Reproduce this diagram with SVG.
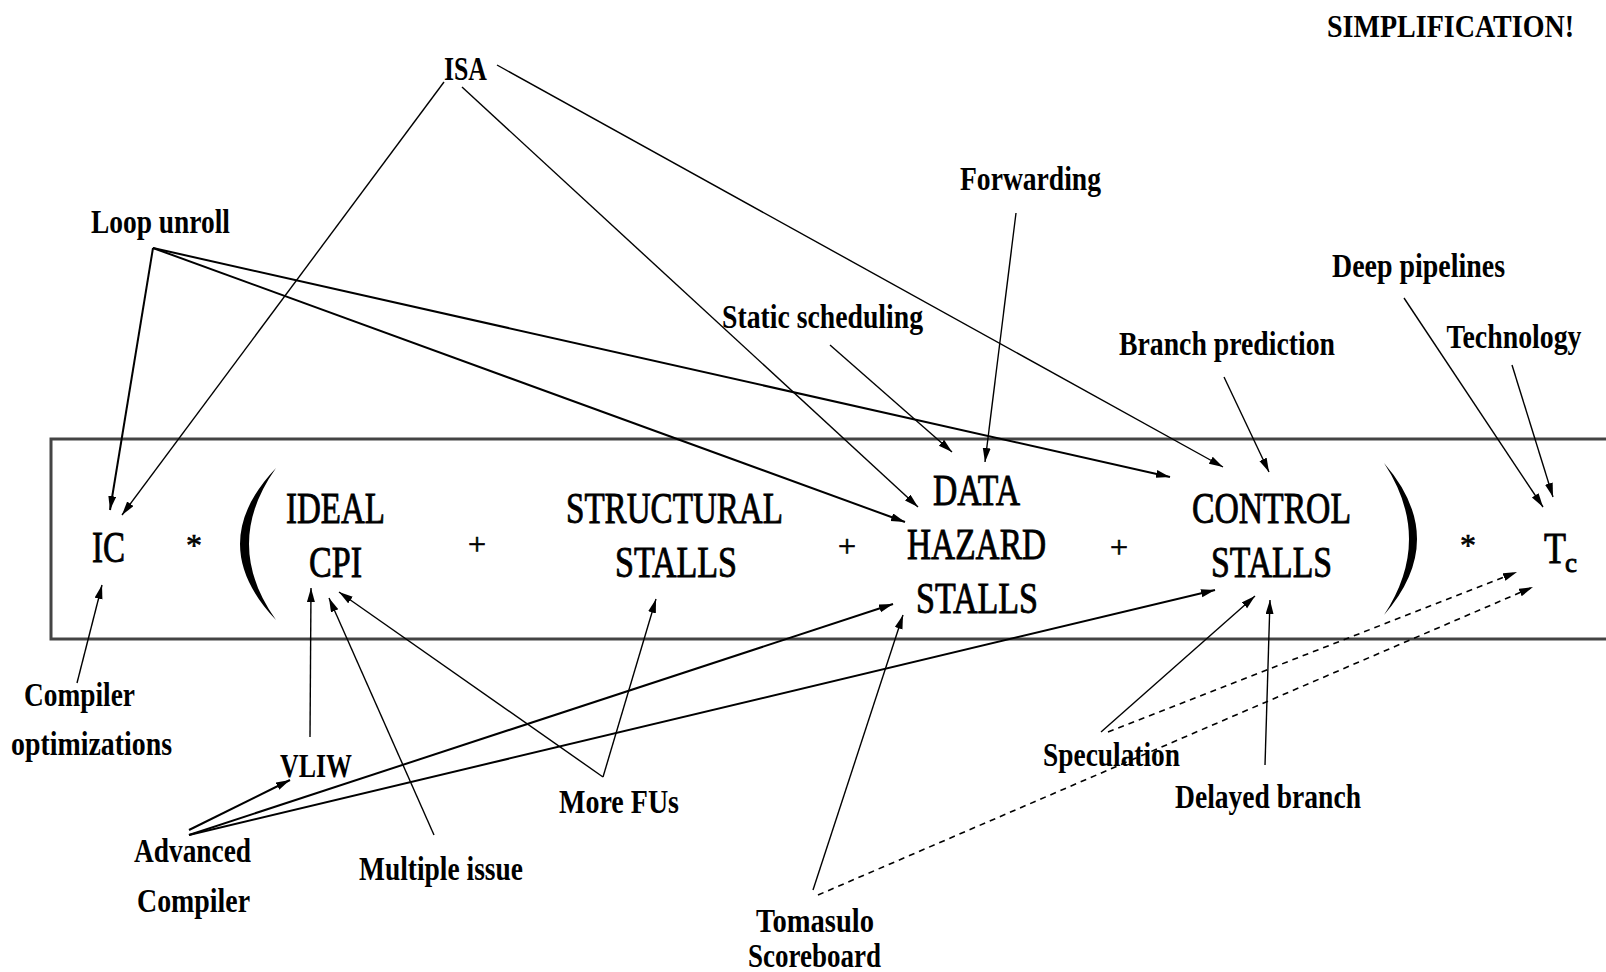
<svg xmlns="http://www.w3.org/2000/svg" width="1606" height="972" viewBox="0 0 1606 972">
<defs>
<marker id="ah" markerUnits="userSpaceOnUse" markerWidth="15" markerHeight="9" refX="14" refY="4" orient="auto">
<path d="M0,0 L14,4 L0,8 Z" fill="#000"/>
</marker>
<style>
.lbl{font-family:"Liberation Serif","Times New Roman",serif;font-weight:bold;font-size:34px;fill:#000;text-anchor:middle}
.eq{font-family:"Liberation Serif","Times New Roman",serif;font-size:44px;fill:#000;stroke:#000;stroke-width:0.9;text-anchor:middle}
.sym{font-family:"Liberation Serif","Times New Roman",serif;font-size:32px;fill:#000;stroke:#000;stroke-width:0.6;text-anchor:middle}
.c{stroke:#000;stroke-width:1.4;fill:none;marker-end:url(#ah)}
.t{stroke-width:2}
.d{stroke-dasharray:6 5;stroke-width:1.6}
</style>
</defs>
<rect width="1606" height="972" fill="#fff"/>
<g id="frame">
<rect x="51" y="439" width="1600" height="200" fill="none" stroke="#444" stroke-width="3"/>
</g>
<g id="equation">
<g id="ic"><text class="eq" x="108.5" y="562" textLength="33" lengthAdjust="spacingAndGlyphs">IC</text></g>
<text class="sym" x="194" y="556">*</text>
<path id="lparen" d="M276,468 Q204,544 276,620 Q222,544 276,468 Z" fill="#000"/>
<g id="ideal-cpi">
<text class="eq" x="335.5" y="523" textLength="99" lengthAdjust="spacingAndGlyphs">IDEAL</text>
<text class="eq" x="335.5" y="577" textLength="53" lengthAdjust="spacingAndGlyphs">CPI</text>
</g>
<text class="sym" x="477" y="555">+</text>
<g id="structural">
<text class="eq" x="674.5" y="523" textLength="217" lengthAdjust="spacingAndGlyphs">STRUCTURAL</text>
<text class="eq" x="676" y="577" textLength="122" lengthAdjust="spacingAndGlyphs">STALLS</text>
</g>
<text class="sym" x="847" y="557">+</text>
<g id="data-hazard">
<text class="eq" x="976.5" y="505" textLength="87" lengthAdjust="spacingAndGlyphs">DATA</text>
<text class="eq" x="976.5" y="559" textLength="139" lengthAdjust="spacingAndGlyphs">HAZARD</text>
<text class="eq" x="977" y="613" textLength="122" lengthAdjust="spacingAndGlyphs">STALLS</text>
</g>
<text class="sym" x="1119" y="558">+</text>
<g id="control">
<text class="eq" x="1271.5" y="523" textLength="159" lengthAdjust="spacingAndGlyphs">CONTROL</text>
<text class="eq" x="1271.5" y="577" textLength="121" lengthAdjust="spacingAndGlyphs">STALLS</text>
</g>
<path id="rparen" d="M1384,463 Q1450,539 1384,615 Q1434,539 1384,463 Z" fill="#000"/>
<text class="sym" x="1468" y="556">*</text>
<g id="tc">
<text class="eq" x="1555" y="563" textLength="22" lengthAdjust="spacingAndGlyphs">T</text>
<text class="eq" x="1571" y="572" style="font-size:28px" textLength="12" lengthAdjust="spacingAndGlyphs">c</text>
</g>
</g>
<g id="labels">
<g id="simplification"><text class="lbl" x="1450.5" y="37" style="font-size:32px" textLength="247" lengthAdjust="spacingAndGlyphs">SIMPLIFICATION!</text></g>
<g id="isa"><text class="lbl" x="465.5" y="80" textLength="43" lengthAdjust="spacingAndGlyphs">ISA</text></g>
<g id="loop-unroll"><text class="lbl" x="160.5" y="233" textLength="139" lengthAdjust="spacingAndGlyphs">Loop unroll</text></g>
<g id="forwarding"><text class="lbl" x="1030.5" y="190" textLength="141" lengthAdjust="spacingAndGlyphs">Forwarding</text></g>
<g id="static-scheduling"><text class="lbl" x="822.5" y="328" textLength="201" lengthAdjust="spacingAndGlyphs">Static scheduling</text></g>
<g id="deep-pipelines"><text class="lbl" x="1418.5" y="277" textLength="173" lengthAdjust="spacingAndGlyphs">Deep pipelines</text></g>
<g id="branch-prediction"><text class="lbl" x="1227" y="355" textLength="216" lengthAdjust="spacingAndGlyphs">Branch prediction</text></g>
<g id="technology"><text class="lbl" x="1514" y="348" textLength="135" lengthAdjust="spacingAndGlyphs">Technology</text></g>
<g id="compiler-opt">
<text class="lbl" x="79.5" y="706" textLength="111" lengthAdjust="spacingAndGlyphs">Compiler</text>
<text class="lbl" x="91.5" y="755" textLength="161" lengthAdjust="spacingAndGlyphs">optimizations</text>
</g>
<g id="vliw"><text class="lbl" x="316" y="777" textLength="72" lengthAdjust="spacingAndGlyphs">VLIW</text></g>
<g id="advanced-compiler">
<text class="lbl" x="192.5" y="862" textLength="117" lengthAdjust="spacingAndGlyphs">Advanced</text>
<text class="lbl" x="193.5" y="912" textLength="113" lengthAdjust="spacingAndGlyphs">Compiler</text>
</g>
<g id="multiple-issue"><text class="lbl" x="441" y="880" textLength="164" lengthAdjust="spacingAndGlyphs">Multiple issue</text></g>
<g id="more-fus"><text class="lbl" x="619" y="813" textLength="120" lengthAdjust="spacingAndGlyphs">More FUs</text></g>
<g id="tomasulo">
<text class="lbl" x="815" y="932" textLength="118" lengthAdjust="spacingAndGlyphs">Tomasulo</text>
<text class="lbl" x="814.5" y="967" textLength="133" lengthAdjust="spacingAndGlyphs">Scoreboard</text>
</g>
<g id="speculation"><text class="lbl" x="1111.5" y="766" textLength="137" lengthAdjust="spacingAndGlyphs">Speculation</text></g>
<g id="delayed-branch"><text class="lbl" x="1268" y="808" textLength="186" lengthAdjust="spacingAndGlyphs">Delayed branch</text></g>
</g>
<g id="connectors">
<line class="c" x1="444" y1="82" x2="122" y2="515"/>
<line class="c" x1="462" y1="87" x2="918" y2="507"/>
<line class="c" x1="497" y1="65" x2="1223" y2="467"/>
<line class="c t" x1="153" y1="248" x2="110" y2="510"/>
<line class="c t" x1="153" y1="248" x2="905" y2="522"/>
<line class="c t" x1="153" y1="248" x2="1170" y2="477"/>
<line class="c" x1="830" y1="345" x2="952" y2="452"/>
<line class="c" x1="1016" y1="213" x2="985" y2="462"/>
<line class="c" x1="1224" y1="377" x2="1269" y2="472"/>
<line class="c" x1="1404" y1="298" x2="1543" y2="507"/>
<line class="c" x1="1512" y1="365" x2="1553" y2="497"/>
<line class="c" x1="77" y1="683" x2="102" y2="585"/>
<line class="c" x1="310" y1="737" x2="311" y2="588"/>
<line class="c" x1="434" y1="835" x2="329" y2="598"/>
<line class="c" x1="603" y1="777" x2="339" y2="592"/>
<line class="c" x1="603" y1="777" x2="656" y2="599"/>
<line class="c t" x1="189" y1="830" x2="290" y2="780"/>
<line class="c t" x1="189" y1="835" x2="893" y2="604"/>
<line class="c t" x1="189" y1="835" x2="1215" y2="590"/>
<line class="c" x1="813" y1="890" x2="903" y2="615"/>
<line class="c d" x1="818" y1="895" x2="1533" y2="587"/>
<line class="c" x1="1101" y1="732" x2="1255" y2="596"/>
<line class="c d" x1="1108" y1="732" x2="1517" y2="572"/>
<line class="c" x1="1265" y1="765" x2="1270" y2="600"/>
</g>
</svg>
